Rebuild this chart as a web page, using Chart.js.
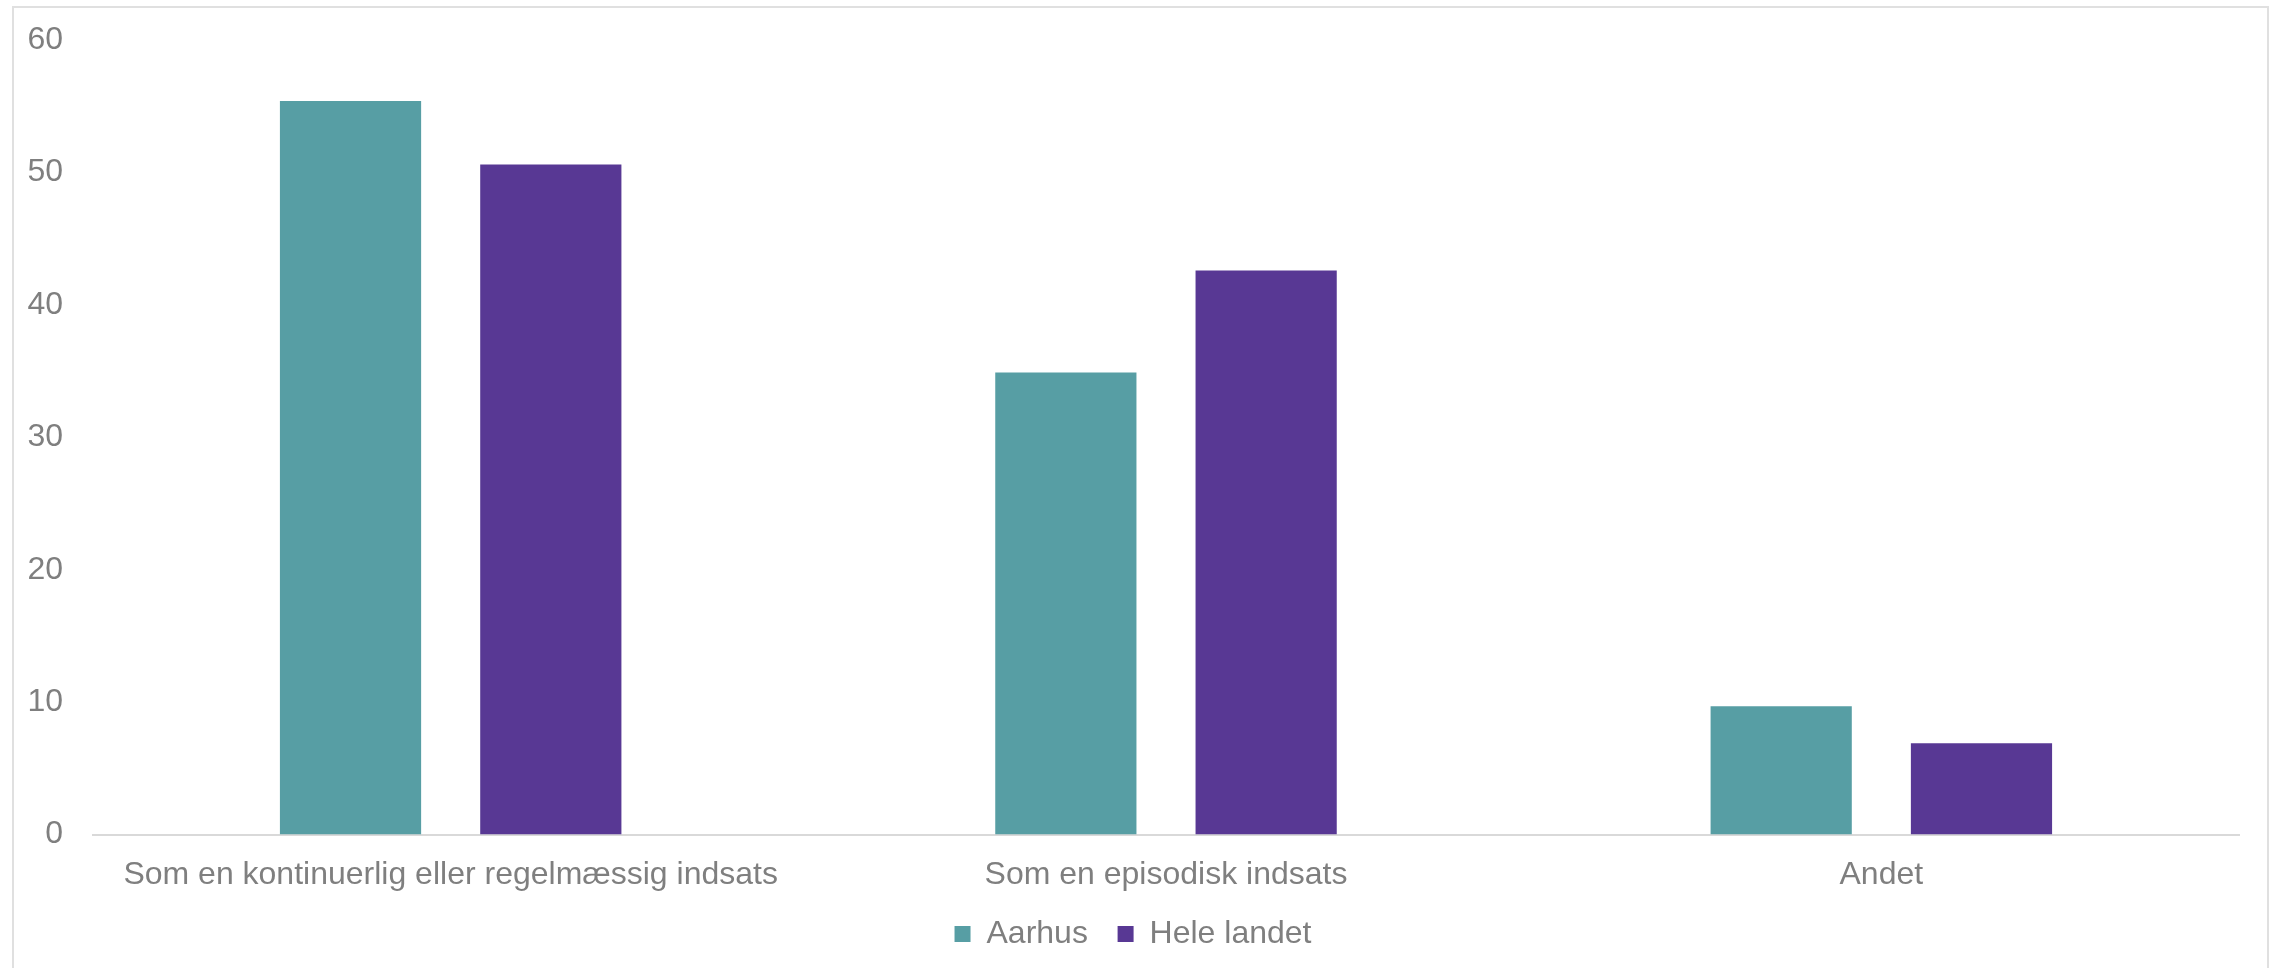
<!DOCTYPE html>
<html>
<head>
<meta charset="utf-8">
<script src="https://cdn.jsdelivr.net/npm/chart.js@4"></script>
<style>
  html, body { margin: 0; padding: 0; background: #fff; }
  #wrap { position: relative; width: 2280px; height: 968px; overflow: hidden; }
  #frame { position: absolute; left: 12px; top: 6px; width: 2257px; height: 980px; border: 2px solid #e0e0e0; box-sizing: border-box; }
  #holder { position: absolute; left: 0; top: 0; width: 2280px; height: 968px; }
</style>
</head>
<body>
<div id="wrap">
  <div id="frame"></div>
  <div id="holder"><canvas id="chart"></canvas></div>
</div>
<script>
// data
const categories = ['Som en kontinuerlig eller regelmæssig indsats', 'Som en episodisk indsats', 'Andet'];
const aarhus = [55.4, 34.9, 9.7];
const heleLandet = [50.6, 42.6, 6.9];
const yTicks = [0, 10, 20, 30, 40, 50, 60];

const grey = '#7f7f7f';
Chart.defaults.font.family = '"Liberation Sans", Arial, sans-serif';
Chart.defaults.font.size = 32;
Chart.defaults.color = grey;

new Chart(document.getElementById('chart'), {
    type: 'bar',
    data: {
        labels: categories,
        datasets: [
            { label: 'Aarhus', data: aarhus, backgroundColor: '#579ea4' },
            { label: 'Hele landet', data: heleLandet, backgroundColor: '#583894' }
        ]
    },
    options: {
        responsive: true,
        maintainAspectRatio: false,
        animation: false,
        categoryPercentage: 0.56,
        barPercentage: 0.705,
        layout: { padding: { left: 27, right: 41, top: 40, bottom: 8 } },
        plugins: {
            legend: {
                position: 'bottom',
                labels: {
                    boxWidth: 16, boxHeight: 16, padding: 3, color: grey,
                    // small padding keeps the legend close to the axis; spaces give the gap between items
                    generateLabels: (chart) => {
                        const items = Chart.defaults.plugins.legend.labels.generateLabels(chart);
                        items.forEach((it, i) => { if (i < items.length - 1) it.text += '   '; });
                        return items;
                    }
                }
            },
            tooltip: { enabled: false }
        },
        scales: {
            x: {
                grid: { display: false, drawTicks: false },
                border: { color: '#d9d9d9', width: 2 },
                ticks: { padding: 21, color: grey, maxRotation: 0 }
            },
            y: {
                min: 0,
                max: 60,
                afterFit: (s) => { s.width = 66; s.paddingTop = 0; s.paddingBottom = 0; },
                afterBuildTicks: (s) => { s.ticks = yTicks.map(v => ({ value: v })); },
                grid: { display: false, drawTicks: false },
                border: { display: false },
                ticks: { padding: 30, color: grey }
            }
        }
    }
});
</script>
</body>
</html>
